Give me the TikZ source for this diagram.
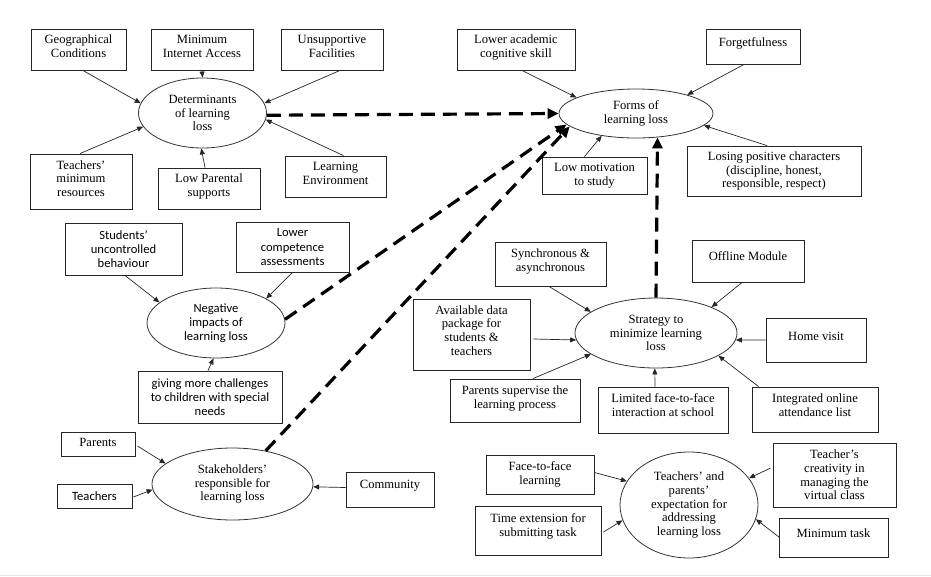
\documentclass[tikz,border=0pt]{standalone}
\usepackage{fontspec}
\setmainfont{Liberation Serif}
\newfontfamily\sansf{Carlito}
\usetikzlibrary{shapes.geometric,arrows.meta}
\newcommand\lift[2][3pt]{\raisebox{#1}[\height][\depth]{\begin{tabular}{@{}c@{}}#2\end{tabular}}}
\begin{document}
\begin{tikzpicture}[x=1pt,y=-1pt,
  box/.style={draw=black!85, line width=0.9pt, align=center, inner sep=0pt, font=\fontsize{12.6}{13.6}\selectfont},
  sbox/.style={box, font=\sansf\fontsize{12.6}{14.2}\selectfont},
  ell/.style={ellipse, draw=black!80, line width=0.8pt, inner sep=0pt, align=center, font=\fontsize{12.6}{13.8}\selectfont},
  sell/.style={ell, font=\sansf\fontsize{12.6}{14.2}\selectfont},
  arr/.style={-{Triangle[length=6pt,width=5pt]}, line width=0.7pt, draw=black!85},
  darr/.style={-{Triangle[length=11pt,width=10pt]}, line width=3.2pt, dash pattern=on 14pt off 8pt},
  ]
\useasboundingbox (0,0) rectangle (931,576);
\draw[black!10, line width=1pt] (0,575) -- (931,575);

% Determinants cluster
\node[box, minimum width=95pt, minimum height=41pt] (geo) at (78.5,49.5) {\lift[1.5pt]{Geographical\\Conditions}};
\node[box, minimum width=102pt, minimum height=41pt] (mia) at (202,49.5) {\lift[1.5pt]{Minimum\\Internet Access}};
\node[box, minimum width=102pt, minimum height=41pt] (unf) at (332,49.5) {\lift[1.5pt]{Unsupportive\\Facilities}};
\node[box, minimum width=102pt, minimum height=55pt] (tmr) at (81,181.5) {\lift[1.5pt]{Teachers’\\minimum\\resources}};
\node[box, minimum width=102pt, minimum height=41pt] (lps) at (209,188.5) {\lift[1.5pt]{Low Parental\\supports}};
\node[box, minimum width=101pt, minimum height=41pt] (len) at (335.5,176.5) {\lift[1.5pt]{Learning\\Environment}};
\node[ell, minimum width=128pt, minimum height=70pt] (det) at (202.5,113) {Determinants\\of learning\\loss};

% Forms cluster
\node[box, minimum width=118pt, minimum height=41pt] (lac) at (516,49.5) {\lift[1.5pt]{Lower academic\\cognitive skill}};
\node[box, minimum width=94pt, minimum height=35pt] (fgt) at (753,46.5) {\lift[3pt]{Forgetfulness}};
\node[ell, minimum width=154pt, minimum height=49pt] (forms) at (636,113.5) {Forms of\\learning loss};
\node[box, minimum width=105pt, minimum height=37pt] (lms) at (594.5,175.5) {Low motivation\\to study};
\node[box, minimum width=174pt, minimum height=50pt] (lpc) at (774,171) {Losing positive characters\\(discipline, honest,\\responsible, respect)};

% Negative impacts cluster
\node[sbox, minimum width=117pt, minimum height=52pt] (suc) at (123.5,249) {Students’\\uncontrolled\\behaviour};
\node[sbox, minimum width=113pt, minimum height=50pt] (lca) at (292.5,247) {Lower\\competence\\assessments};
\node[sell, minimum width=138pt, minimum height=70pt] (neg) at (216,323) {Negative\\impacts of\\learning loss};
\node[sbox, minimum width=144pt, minimum height=52pt] (gmc) at (210,397) {giving more challenges\\to children with special\\needs};

% Strategy cluster
\node[box, minimum width=111pt, minimum height=44pt] (syn) at (550.5,264) {\lift[2.5pt]{Synchronous \&\\asynchronous}};
\node[box, minimum width=112pt, minimum height=42pt] (off) at (748,261) {\lift[3pt]{Offline Module}};
\node[box, minimum width=117pt, minimum height=71pt] (adp) at (471.5,334.5) {\lift[2.5pt]{Available data\\package for\\students \&\\teachers}};
\node[ell, minimum width=162pt, minimum height=70pt] (str) at (656,333) {Strategy to\\minimize learning\\loss};
\node[box, minimum width=100pt, minimum height=44pt] (hv) at (816,340) {\lift[2.5pt]{Home visit}};
\node[box, minimum width=130pt, minimum height=43pt] (psl) at (515,400.5) {\lift[1.5pt]{Parents supervise the\\learning process}};
\node[box, minimum width=130pt, minimum height=46pt] (lff) at (663,410) {\lift[3pt]{Limited face-to-face\\interaction at school}};
\node[box, minimum width=126pt, minimum height=45pt] (ioa) at (815,409.5) {\lift[3pt]{Integrated online\\attendance list}};

% Stakeholders cluster
\node[box, minimum width=74pt, minimum height=24pt] (par) at (98,444) {\lift[0.5pt]{Parents\hspace{14pt}}};
\node[sbox, minimum width=75pt, minimum height=24pt] (tea) at (94.5,496) {Teachers};
\node[ell, minimum width=161pt, minimum height=72pt] (stk) at (232.5,484) {Stakeholders’\\responsible for\\learning loss};
\node[box, minimum width=88pt, minimum height=35pt] (com) at (390,489.5) {\lift[4pt]{Community}};

% Expectation cluster
\node[box, minimum width=108pt, minimum height=39pt] (ftf) at (540,474.5) {Face-to-face\\learning};
\node[box, minimum width=126pt, minimum height=49pt] (tex) at (538,530.5) {\lift[3.5pt]{Time extension for\\submitting task}};
\node[ell, minimum width=138pt, minimum height=106pt] (tpe) at (689,505) {Teachers’ and\\parents’\\expectation for\\addressing\\learning loss};
\node[box, minimum width=123pt, minimum height=64pt] (tcr) at (834.5,475) {Teacher’s\\creativity in\\managing the\\virtual class};
\node[box, minimum width=109pt, minimum height=39pt] (mt) at (833.5,537.5) {\lift[3pt]{Minimum task}};

% thin arrows: determinants
\draw[arr] ([xshift=4.5pt]geo.south) -- (det.171);
\draw[arr] (mia.south) -- (det.north);
\draw[arr] ([xshift=8pt]unf.south) -- (det.9);
\draw[arr] ([xshift=-1pt]tmr.north) -- (det.193);
\draw[arr] ([xshift=-4pt]lps.north) -- (det.268);
\draw[arr] ([xshift=8pt]len.north) -- (det.354);

% forms
\draw[arr] ([xshift=6pt]lac.south) -- (forms.165);
\draw[arr] ([xshift=-9pt]fgt.south) -- (forms.20);
\draw[arr] ([xshift=-10pt]lms.north) -- (forms.213);
\draw[arr] ([xshift=-7pt]lpc.north) -- (forms.350);

% negative
\draw[arr] ([xshift=1.5pt]suc.south) -- (neg.160);
\draw[arr] (lca.south) -- (neg.26);
\draw[arr] ([xshift=-2pt]gmc.north) -- (neg.266);

% strategy
\draw[arr] ([xshift=-1.5pt]syn.south) -- (str.162);
\draw[arr] ([xshift=-6pt]off.south) -- (str.25);
\draw[arr] ([xshift=3pt,yshift=-4.5pt]adp.east) -- (str.185);
\draw[arr] ([xshift=18pt]psl.north) -- (str.198);
\draw[arr] ([xshift=-8pt]lff.north) -- (str.268);
\draw[arr] ([xshift=7pt]ioa.north west) -- (str.340);
\draw[arr] (hv.west) -- (str.355);

% stakeholders
\draw[arr] ([xshift=2pt,yshift=-2pt]par.east) -- (stk.163);
\draw[arr] ([xshift=1pt,yshift=-1pt]tea.east) -- (stk.184);
\draw[arr] ([yshift=2pt]com.west) -- (stk.358);

% expectation
\draw[arr] ([yshift=2pt]ftf.east) -- (tpe.159);
\draw[arr] ([xshift=2pt,yshift=-1.5pt]tex.east) -- (tpe.193);
\draw[arr] ([xshift=-2pt,yshift=7pt]tcr.west) -- (tpe.24);
\draw[arr] ([xshift=1pt]mt.west) -- (tpe.348);

% dashed arrows
\draw[darr] (det.358) -- (forms.west);
\draw[darr] (neg.3) -- (forms.189);
\draw[darr] (stk.45) -- (forms.191);
\draw[darr] (str.north) -- (forms.312);
\end{tikzpicture}
\end{document}
